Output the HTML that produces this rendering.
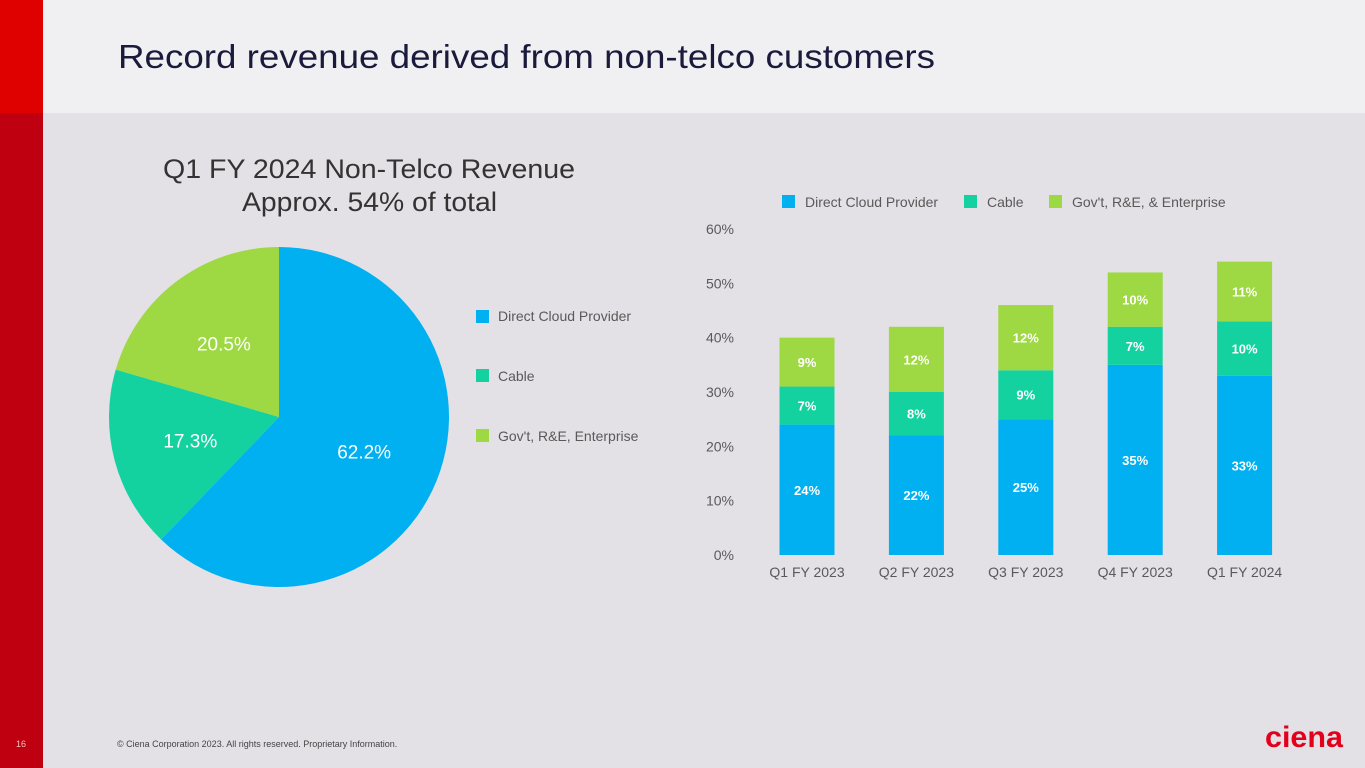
<!DOCTYPE html>
<html><head><meta charset="utf-8"><style>
html,body{margin:0;padding:0;width:1365px;height:768px;overflow:hidden;background:#e3e1e6;}
svg{display:block;font-family:"Liberation Sans",Arial,sans-serif;}
</style></head><body>
<svg id="s" width="1365" height="768" viewBox="0 0 1365 768" xmlns="http://www.w3.org/2000/svg">
<rect x="0" y="0" width="1365" height="768" fill="#e3e1e6"/>
<rect x="0" y="0" width="1365" height="113" fill="#f0eff2"/>
<rect x="0" y="0" width="43" height="113" fill="#df0000"/>
<rect x="0" y="113" width="43" height="655" fill="#bf0010"/>
<text x="118" y="68" font-size="33" fill="#1a1a3c" textLength="817" lengthAdjust="spacingAndGlyphs">Record revenue derived from non-telco customers</text>
<text x="163" y="178" font-size="27" fill="#333" textLength="412" lengthAdjust="spacingAndGlyphs">Q1 FY 2024 Non-Telco Revenue</text>
<text x="242" y="211" font-size="27" fill="#333" textLength="255" lengthAdjust="spacingAndGlyphs">Approx. 54% of total</text>
<g id="pie"></g>
<g>
<rect x="476" y="310" width="13" height="13" fill="#00b0f0"/>
<text x="498" y="321" font-size="14" fill="#595959">Direct Cloud Provider</text>
<rect x="476" y="369" width="13" height="13" fill="#13d2a0"/>
<text x="498" y="381" font-size="14" fill="#595959">Cable</text>
<rect x="476" y="429" width="13" height="13" fill="#9ed842"/>
<text x="498" y="441" font-size="14" fill="#595959">Gov't, R&amp;E, Enterprise</text>
</g>
<g>
<rect x="782" y="195" width="13" height="13" fill="#00b0f0"/>
<text x="805" y="207" font-size="14" fill="#595959">Direct Cloud Provider</text>
<rect x="964" y="195" width="13" height="13" fill="#13d2a0"/>
<text x="987" y="207" font-size="14" fill="#595959">Cable</text>
<rect x="1049" y="195" width="13" height="13" fill="#9ed842"/>
<text x="1072" y="207" font-size="14" fill="#595959">Gov't, R&amp;E, &amp; Enterprise</text>
</g>
<g id="bars"></g>
<text x="16" y="747" font-size="9" fill="#f3c0c0">16</text>
<text x="117" y="747" font-size="9" fill="#444">© Ciena Corporation 2023. All rights reserved. Proprietary Information.</text>
<text x="1265" y="747" font-size="30" font-weight="bold" fill="#e2001a" textLength="78" lengthAdjust="spacingAndGlyphs">ciena</text>
</svg>
<script>
const pieLabels = ["62.2%","17.3%","20.5%"];
const pieValues = [62.2,17.3,20.5];
const pieColors = ["#00b0f0","#13d2a0","#9ed842"];
const categories = ["Q1 FY 2023","Q2 FY 2023","Q3 FY 2023","Q4 FY 2023","Q1 FY 2024"];
const cloudVals = [24,22,25,35,33];
const cableVals = [7,8,9,7,10];
const govVals = [9,12,12,10,11];
const yTicks = [0,10,20,30,40,50,60];
const NS="http://www.w3.org/2000/svg";
function mk(tag,attrs,parent,text){const e=document.createElementNS(NS,tag);for(const k in attrs)e.setAttribute(k,attrs[k]);if(text!=null)e.textContent=text;parent.appendChild(e);return e;}
const pie=document.getElementById('pie');
const cx=279,cy=417,r=170;
let total=pieValues.reduce((a,b)=>a+b,0),acc=0;
pieValues.forEach((v,i)=>{
  const a0=acc/total*2*Math.PI, a1=(acc+v)/total*2*Math.PI; acc+=v;
  const x0=cx+r*Math.sin(a0),y0=cy-r*Math.cos(a0),x1=cx+r*Math.sin(a1),y1=cy-r*Math.cos(a1);
  const p=mk('path',{d:`M${cx},${cy} L${x0},${y0} A${r},${r} 0 ${a1-a0>Math.PI?1:0} 1 ${x1},${y1} Z`,fill:pieColors[i]},pie);
  
  
  const am=(a0+a1)/2,lr=r*0.54;
  const t=mk('text',{x:cx+lr*Math.sin(am),y:cy-lr*Math.cos(am)+7,'font-size':19,fill:'#fff','text-anchor':'middle'},pie,pieLabels[i]);
  
  
});
const g=document.getElementById('bars');
const y0=555,pxPer=326/60;
const ys=v=>y0-v*pxPer;
const xc=i=>807+i*109.4;
const bw=55;
yTicks.forEach(t=>{
  const e=mk('text',{x:734,y:ys(t)+5,'font-size':14,fill:'#595959','text-anchor':'end'},g,t+'%');
  
  
});
categories.forEach((c,i)=>{
  const segs=[[cloudVals[i],'#00b0f0','cloud'],[cableVals[i],'#13d2a0','cable'],[govVals[i],'#9ed842','gov']];
  let base=0;
  segs.forEach(s=>{
    const rr=mk('rect',{x:xc(i)-bw/2,y:ys(base+s[0]),width:bw,height:s[0]*pxPer,fill:s[1]},g);
    
    
    const tl=mk('text',{x:xc(i),y:ys(base+s[0]/2)+5,'font-size':13,'font-weight':'bold',fill:'#fff','text-anchor':'middle'},g,s[0]+'%');
    
    
    base+=s[0];
  });
  const cl=mk('text',{x:xc(i),y:577,'font-size':14,fill:'#595959','text-anchor':'middle'},g,c);
  
  
});
</script>
</body></html>
